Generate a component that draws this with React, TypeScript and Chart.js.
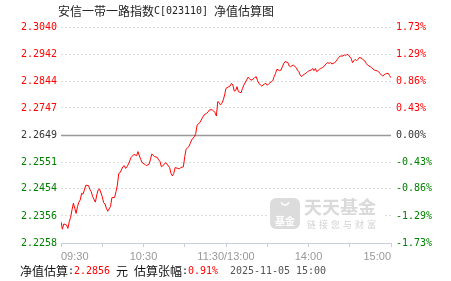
import { useEffect, useRef } from 'react';
import { Chart, registerables } from 'chart.js';

Chart.register(...registerables);

// minutes since 09:30 (11:30 and 13:00 share minute 120)
const minutes = [
  0, 1, 2, 4, 5, 6, 7, 8, 9, 10, 11, 12, 13, 14, 15, 16, 17, 18, 20, 21, 22, 23, 25, 26, 27, 28, 30,
  31, 32, 33, 34, 36, 37, 39, 40, 41, 42, 43, 45, 46, 47, 48, 49, 51, 52, 53, 55, 56, 57, 58, 59, 61,
  62, 64, 65, 66, 67, 68, 70, 71, 72, 73, 74, 76, 77, 79, 80, 81, 82, 83, 85, 86, 87, 89, 90, 91, 92,
  93, 94, 95, 97, 98, 99, 101, 102, 103, 104, 106, 107, 108, 110, 111, 112, 113, 114, 115, 116, 117,
  118, 119, 120, 122, 123, 124, 125, 126, 127, 128, 129, 131, 132, 133, 135, 136, 137, 138, 139, 141,
  142, 143, 144, 145, 146, 148, 149, 150, 151, 153, 154, 155, 156, 157, 159, 160, 161, 162, 163, 165,
  166, 167, 168, 169, 171, 172, 173, 174, 175, 177, 178, 179, 180, 182, 183, 184, 185, 186, 188, 189,
  190, 191, 193, 194, 195, 196, 197, 199, 200, 201, 202, 203, 205, 206, 207, 208, 209, 211, 212, 213,
  214, 215, 216, 217, 219, 220, 221, 222, 223, 225, 226, 227, 228, 230, 231, 232, 233, 234, 236, 237,
  238, 239, 240,
];

const navValues = [
  2.2335, 2.2308, 2.2327, 2.2323, 2.2311, 2.2335, 2.2351, 2.2378, 2.2402, 2.2384, 2.2365, 2.239,
  2.2406, 2.2414, 2.2438, 2.2435, 2.245, 2.2467, 2.2466, 2.2452, 2.2444, 2.2426, 2.2406, 2.2432,
  2.245, 2.2454, 2.2426, 2.2404, 2.2399, 2.2384, 2.2373, 2.239, 2.2422, 2.2423, 2.2444, 2.2468,
  2.251, 2.2513, 2.2534, 2.2538, 2.2528, 2.2534, 2.2543, 2.2568, 2.2573, 2.2579, 2.2574, 2.2589,
  2.2573, 2.2561, 2.2549, 2.2543, 2.2538, 2.2543, 2.2559, 2.258, 2.2576, 2.2571, 2.2568, 2.2559,
  2.2553, 2.2534, 2.2537, 2.2549, 2.2544, 2.2531, 2.251, 2.2501, 2.251, 2.2531, 2.2528, 2.2526,
  2.2531, 2.2534, 2.2571, 2.2597, 2.2603, 2.2607, 2.2619, 2.2631, 2.2643, 2.2655, 2.2685, 2.2694,
  2.2703, 2.2713, 2.2721, 2.2728, 2.2733, 2.274, 2.274, 2.2736, 2.273, 2.2718, 2.277, 2.2766, 2.2758,
  2.2764, 2.2776, 2.2794, 2.2818, 2.2824, 2.2826, 2.2836, 2.283, 2.2808, 2.281, 2.2824, 2.2806,
  2.2802, 2.2818, 2.283, 2.2848, 2.2858, 2.2854, 2.2848, 2.2848, 2.2858, 2.286, 2.2845, 2.2836,
  2.283, 2.2826, 2.2834, 2.2836, 2.2829, 2.2834, 2.2842, 2.2846, 2.286, 2.2872, 2.2887, 2.2882,
  2.2884, 2.2896, 2.2908, 2.2915, 2.2911, 2.2899, 2.2896, 2.29, 2.2902, 2.2893, 2.2884, 2.2878,
  2.2866, 2.286, 2.287, 2.2872, 2.2876, 2.2881, 2.2884, 2.289, 2.2882, 2.289, 2.2878, 2.2887, 2.289,
  2.2893, 2.2896, 2.2908, 2.2911, 2.2908, 2.2912, 2.2906, 2.2911, 2.2915, 2.2923, 2.293, 2.2935,
  2.2935, 2.2939, 2.2936, 2.2941, 2.2939, 2.2926, 2.2911, 2.2918, 2.2923, 2.2918, 2.2923, 2.293,
  2.2926, 2.292, 2.2917, 2.2908, 2.2902, 2.2896, 2.2893, 2.2887, 2.2884, 2.2881, 2.2878, 2.2872,
  2.2866, 2.2863, 2.287, 2.2872, 2.2872, 2.2864, 2.2856,
];

const baseNav = 2.2649;
const navTicks = [2.2258, 2.2356, 2.2454, 2.2551, 2.2649, 2.2747, 2.2844, 2.2942, 2.304];
const navTickLabels = ['2.2258', '2.2356', '2.2454', '2.2551', '2.2649', '2.2747', '2.2844', '2.2942', '2.3040'];
const pctTickLabels = ['-1.73%', '-1.29%', '-0.86%', '-0.43%', '0.00%', '0.43%', '0.86%', '1.29%', '1.73%'];
const timeTickMinutes = [0, 60, 120, 180, 240];
const timeTickLabels = ['09:30', '10:30', '11:30/13:00', '14:00', '15:00'];

const titleText = '安信一带一路指数C[023110] 净值估算图';
const latestNav = '2.2856';
const latestPct = '0.91%';
const latestTime = '2025-11-05 15:00';

const MONO = '10px "DejaVu Sans Mono"';
const CJK = '12px "Noto Sans CJK SC"';

function drawCells(ctx: CanvasRenderingContext2D, text: string, x: number, y: number, color: string): number {
  ctx.fillStyle = color;
  ctx.textBaseline = 'middle';
  ctx.textAlign = 'left';
  let cx = x;
  for (const ch of text) {
    const wide = ch.charCodeAt(0) > 255;
    if (ch !== ' ') {
      ctx.font = wide ? CJK : MONO;
      ctx.fillText(ch, cx, y);
    }
    cx += wide ? 12 : 6;
  }
  return cx;
}

function tickColor(v: number): string {
  if (Math.abs(v - baseNav) < 1e-6) return '#333333';
  return v > baseNav ? '#ff0000' : '#008000';
}

const decorPlugin = {
  id: 'decor',
  beforeDatasetsDraw(chart: any) {
    const { ctx, chartArea, scales } = chart;
    ctx.save();
    // watermark (covers grid)
    ctx.fillStyle = '#ffffff';
    ctx.fillRect(267, 196, 116, 36);
    ctx.fillStyle = '#dcdcdc';
    const rx = 270, ry = 198, rw = 30, rh = 31, rr = 6;
    ctx.beginPath();
    ctx.moveTo(rx + rr, ry);
    ctx.arcTo(rx + rw, ry, rx + rw, ry + rh, rr);
    ctx.arcTo(rx + rw, ry + rh, rx, ry + rh, rr);
    ctx.arcTo(rx, ry + rh, rx, ry, rr);
    ctx.arcTo(rx, ry, rx + rw, ry, rr);
    ctx.closePath();
    ctx.fill();
    ctx.strokeStyle = '#ffffff';
    ctx.lineWidth = 1.5;
    ctx.beginPath();
    ctx.arc(285, 201, 4, 0.1 * Math.PI, 0.9 * Math.PI);
    ctx.stroke();
    ctx.fillStyle = '#ffffff';
    ctx.font = 'bold 10px "Noto Sans CJK SC"';
    ctx.textAlign = 'center';
    ctx.textBaseline = 'middle';
    ctx.fillText('基金', 285, 221);
    ctx.fillStyle = '#dadada';
    ctx.font = 'bold 18px "Noto Sans CJK SC"';
    ctx.textAlign = 'left';
    ctx.fillText('天天基金', 304, 207);
    ctx.fillStyle = '#d2d2d2';
    ctx.font = '9px "Noto Sans CJK SC"';
    const sub = '链接您与财富';
    let sx = 307;
    for (const ch of sub) {
      ctx.fillText(ch, sx, 224.5);
      sx += 12;
    }
    // base line
    const yb = Math.round(scales.y.getPixelForValue(baseNav)) + 0.5;
    ctx.strokeStyle = '#999999';
    ctx.lineWidth = 1.5;
    ctx.beginPath();
    ctx.moveTo(chartArea.left, yb);
    ctx.lineTo(chartArea.right, yb);
    ctx.stroke();
    ctx.restore();
  },
  afterDraw(chart: any) {
    const ctx = chart.ctx as CanvasRenderingContext2D;
    ctx.save();
    drawCells(ctx, titleText, 58, 11.5, '#222222');
    let x = 20;
    const y = 271.5;
    x = drawCells(ctx, '净值估算:', x, y, '#111111');
    x = drawCells(ctx, latestNav, x, y, '#ff0000');
    x = drawCells(ctx, ' 元 ', x, y, '#111111');
    x = drawCells(ctx, '估算张幅:', x, y, '#111111');
    x = drawCells(ctx, latestPct, x, y, '#ff0000');
    drawCells(ctx, '  ' + latestTime, x, y, '#555555');
    ctx.restore();
  },
};

export default function App() {
  const canvasRef = useRef<HTMLCanvasElement | null>(null);

  useEffect(() => {
    document.body.style.margin = '0';
    const canvas = canvasRef.current;
    if (!canvas) return;
    const points = minutes.map((m, i) => ({ x: m, y: navValues[i] }));
    const setTicks = (scale: any) => {
      scale.ticks = navTicks.map((v) => ({ value: v }));
    };
    const chart = new Chart(canvas, {
      type: 'line',
      data: {
        datasets: [
          {
            data: points,
            borderColor: '#ff0000',
            borderWidth: 1,
            pointRadius: 0,
            tension: 0,
            fill: false,
          },
        ],
      },
      options: {
        responsive: false,
        animation: false,
        events: [],
        layout: { padding: { top: 27, bottom: 16, left: 0, right: 0 } },
        plugins: { legend: { display: false }, tooltip: { enabled: false }, title: { display: false } },
        scales: {
          x: {
            type: 'linear',
            min: 0,
            max: 240,
            afterBuildTicks: (scale: any) => {
              scale.ticks = [0, 30, 60, 90, 120, 150, 180, 210, 240].map((v) => ({ value: v }));
            },
            afterFit: (scale: any) => {
              scale.height = 22;
            },
            grid: { display: true, drawOnChartArea: false, drawTicks: true, tickLength: 4, color: '#c5d0dc' },
            border: { display: true, color: '#c5d0dc', width: 1 },
            ticks: {
              autoSkip: false,
              maxRotation: 0,
              align: 'inner',
              padding: 3,
              color: '#999999',
              font: { family: '"Liberation Sans"', size: 11 },
              callback: (v: any) => {
                const i = timeTickMinutes.indexOf(Number(v));
                return i >= 0 ? timeTickLabels[i] : '';
              },
            },
          },
          y: {
            type: 'linear',
            position: 'left',
            min: navTicks[0],
            max: navTicks[navTicks.length - 1],
            afterBuildTicks: setTicks,
            afterFit: (scale: any) => {
              scale.width = 61;
            },
            grid: {
              drawTicks: false,
              color: (c: any) => {
                if (c.index === 0) return 'rgba(0,0,0,0)';
                if (Math.abs(c.tick.value - baseNav) < 1e-6) return 'rgba(0,0,0,0)';
                return '#dddddd';
              },
              lineWidth: 1,
            },
            border: { display: false, dash: [2, 2] },
            ticks: {
              padding: 4,
              font: { family: '"DejaVu Sans Mono"', size: 10 },
              color: (c: any) => tickColor(c.tick.value),
              callback: (_v: any, i: number) => navTickLabels[i],
            },
          },
          y2: {
            type: 'linear',
            position: 'right',
            min: navTicks[0],
            max: navTicks[navTicks.length - 1],
            afterBuildTicks: setTicks,
            afterFit: (scale: any) => {
              scale.width = 60;
            },
            grid: { display: false, drawTicks: false },
            border: { display: false },
            ticks: {
              padding: 5,
              font: { family: '"DejaVu Sans Mono"', size: 10 },
              color: (c: any) => tickColor(c.tick.value),
              callback: (_v: any, i: number) => pctTickLabels[i],
            },
          },
        },
      },
      plugins: [decorPlugin],
    } as any);
    return () => chart.destroy();
  }, []);

  return (
    <div style={{ position: 'absolute', left: 0, top: 0, width: 451, height: 281, background: '#fff' }}>
      <canvas ref={canvasRef} width={451} height={281} />
    </div>
  );
}
